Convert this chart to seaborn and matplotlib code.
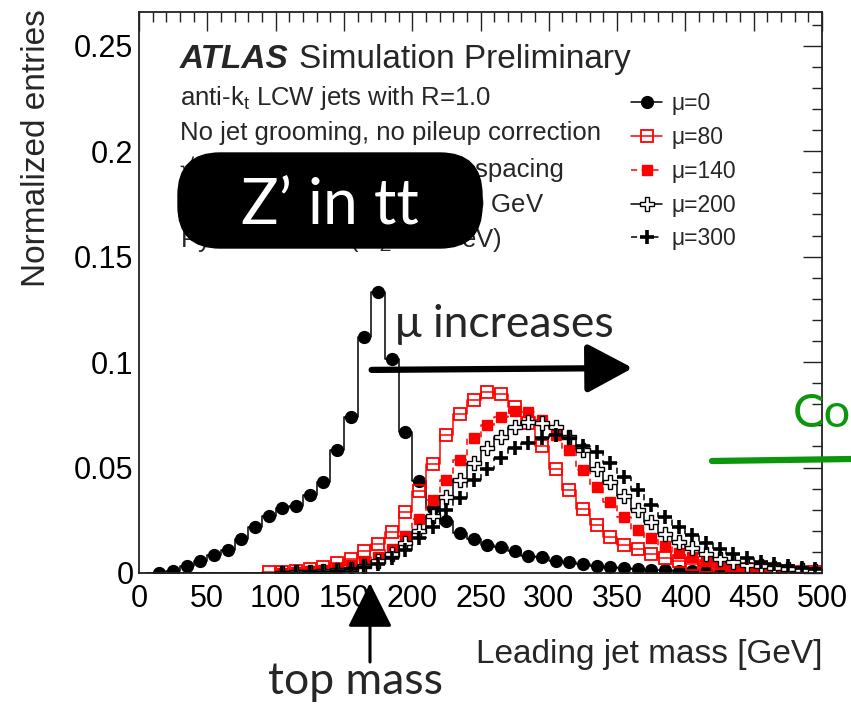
import numpy as np
import pandas as pd
import matplotlib
matplotlib.use("Agg")
import matplotlib.pyplot as plt
import seaborn as sns
from matplotlib.lines import Line2D
from matplotlib.patches import FancyBboxPatch
from matplotlib.ticker import MultipleLocator, FuncFormatter

sns.set_style("white")
plt.rcParams['font.family'] = ['Liberation Sans', 'DejaVu Sans']
plt.rcParams['mathtext.fontset'] = 'custom'
plt.rcParams['mathtext.rm'] = 'Liberation Sans'
plt.rcParams['mathtext.it'] = 'Liberation Sans:italic'
plt.rcParams['mathtext.bf'] = 'Liberation Sans:bold'

# ---------------- data ----------------
bin_centers = list(range(5, 500, 10))
series_labels = ["μ=0", "μ=80", "μ=140", "μ=200", "μ=300"]

mu0 = [0.0, 0.0002, 0.0008, 0.0035, 0.0055, 0.0085, 0.011, 0.016, 0.0217, 0.027,
       0.0307, 0.032, 0.037, 0.0433, 0.0584, 0.0742, 0.112, 0.133, 0.1016, 0.0668,
       0.0438, 0.0307, 0.0245, 0.019, 0.0163, 0.0133, 0.0125, 0.0104, 0.0081, 0.0074,
       0.0058, 0.0051, 0.0041, 0.0033, 0.0027, 0.0022, 0.0018, 0.0014, 0.0013, 0.0011,
       0.0009, 0.0008, 0.0007, 0.0006, 0.0005, 0.0005, 0.0004, 0.0004, 0.0003, 0.0003]
mu80 = [0.0, 0.0, 0.0, 0.0, 0.0, 0.0, 0.0, 0.0, 0.0, 0.0003,
        0.0006, 0.001, 0.0018, 0.0027, 0.0046, 0.0065, 0.0105, 0.0138, 0.0196, 0.0287,
        0.0388, 0.0518, 0.0652, 0.0755, 0.0822, 0.0858, 0.0848, 0.0785, 0.071, 0.0603,
        0.0492, 0.0394, 0.0302, 0.0228, 0.0172, 0.0135, 0.0112, 0.0088, 0.007, 0.0056,
        0.0044, 0.0035, 0.0028, 0.0022, 0.0017, 0.0014, 0.0011, 0.0009, 0.0007, 0.0006]
mu140 = [0.0, 0.0, 0.0, 0.0, 0.0, 0.0, 0.0, 0.0, 0.0, 0.0,
         0.0002, 0.0005, 0.0009, 0.0015, 0.0025, 0.0038, 0.0055, 0.0077, 0.0115, 0.0176,
         0.0258, 0.0345, 0.0442, 0.0534, 0.0639, 0.07, 0.0742, 0.0766, 0.0763, 0.0726,
         0.0655, 0.0584, 0.0489, 0.041, 0.0338, 0.0267, 0.0206, 0.0164, 0.0128, 0.0097,
         0.0075, 0.0056, 0.0042, 0.0032, 0.0024, 0.0018, 0.0014, 0.0011, 0.0009, 0.0007]
mu200 = [0.0, 0.0, 0.0, 0.0, 0.0, 0.0, 0.0, 0.0, 0.0, 0.0,
         0.0001, 0.0003, 0.0005, 0.0008, 0.0012, 0.002, 0.0032, 0.0055, 0.0088, 0.014,
         0.0198, 0.027, 0.0362, 0.0441, 0.052, 0.0592, 0.0647, 0.0694, 0.0718, 0.071,
         0.0691, 0.0647, 0.0584, 0.0494, 0.0433, 0.0365, 0.0299, 0.0243, 0.0187, 0.0149,
         0.0117, 0.0088, 0.0067, 0.0053, 0.004, 0.0031, 0.0024, 0.0018, 0.0014, 0.0011]
mu300 = [0.0, 0.0, 0.0, 0.0, 0.0, 0.0, 0.0, 0.0, 0.0, 0.0,
         0.0001, 0.0002, 0.0004, 0.0006, 0.001, 0.0017, 0.0028, 0.0045, 0.0072, 0.011,
         0.0165, 0.022, 0.0299, 0.0355, 0.0441, 0.0492, 0.0544, 0.0592, 0.0618, 0.0642,
         0.0655, 0.0639, 0.0603, 0.0576, 0.0523, 0.0454, 0.0395, 0.0323, 0.0267, 0.0217,
         0.018, 0.0144, 0.0112, 0.009, 0.007, 0.0054, 0.0043, 0.0033, 0.0025, 0.002]

x_ticks = [0, 50, 100, 150, 200, 250, 300, 350, 400, 450, 500]
y_ticks = [0, 0.05, 0.1, 0.15, 0.2, 0.25]

# ---------------- styles ----------------
styles = [
    dict(color="black", ls="-", marker="o", ms=8.5, mfc="black", mec="black", mew=1.0),
    dict(color="red", ls="-", marker="s", ms=8.3, mfc="none", mec="red", mew=1.3),
    dict(color="red", ls=(0, (4, 3)), marker="s", ms=7.8, mfc="red", mec="red", mew=1.0),
    dict(color="black", ls="-", marker="P", ms=10.5, mfc="white", mec="black", mew=1.0),
    dict(color="black", ls=(0, (4, 3)), marker="+", ms=10.5, mfc="black", mec="black", mew=2.6),
]
all_series = [mu0, mu80, mu140, mu200, mu300]

W, H = 851, 707
fig = plt.figure(figsize=(W / 100, H / 100), dpi=100)
ax = fig.add_axes([139 / W, 134 / H, 683 / W, 561 / H])

for vals, st in zip(all_series, styles):
    vals = np.asarray(vals)
    sns.lineplot(x=bin_centers, y=vals, ax=ax, drawstyle="steps-mid",
                 color=st["color"], linestyle=st["ls"], linewidth=1.1,
                 marker=st["marker"], markersize=st["ms"],
                 markerfacecolor=st["mfc"], markeredgecolor=st["mec"],
                 markeredgewidth=st["mew"], markevery=list(vals > 0),
                 legend=False)

ax.set_xlim(0, 500)
ax.set_ylim(0, 0.266)
ax.xaxis.set_major_locator(MultipleLocator(50))
ax.xaxis.set_minor_locator(MultipleLocator(10))
ax.yaxis.set_major_locator(MultipleLocator(0.05))
ax.yaxis.set_minor_locator(MultipleLocator(0.01))
ax.set_xticks(x_ticks)
ax.set_yticks(y_ticks)
ax.yaxis.set_major_formatter(FuncFormatter(lambda v, p: f"{v:g}"))
ax.tick_params(which="both", direction="in", top=True, right=True, colors="#222222")
ax.tick_params(which="major", length=14, width=1.0, labelsize=22, labelcolor="black")
ax.tick_params(which="minor", length=7, width=1.0)
ax.tick_params(axis="x", which="major", pad=8)
ax.tick_params(axis="y", which="major", pad=4)
for sp in ax.spines.values():
    sp.set_linewidth(1.3)
    sp.set_color("#222222")

ax.set_xlabel("Leading jet mass [GeV]", fontsize=24, loc="right")
ax.xaxis.set_label_coords(1.0, -0.118)
ax.set_ylabel("Normalized entries", fontsize=24, loc="top")
ax.yaxis.set_label_coords(-0.128, 1.005)

# legend
handles = [Line2D([], [], color=st["color"], linestyle=st["ls"], linewidth=1.1,
                  marker=st["marker"], markersize=st["ms"], markerfacecolor=st["mfc"],
                  markeredgecolor=st["mec"], markeredgewidth=st["mew"]) for st in styles]
ax.legend(handles, series_labels, loc="upper left", bbox_to_anchor=(0.7208, 0.857),
          frameon=False, fontsize=16.5, handlelength=1.35, handletextpad=0.4,
          labelspacing=0.47, borderpad=0, borderaxespad=0)

# ATLAS texts
x0 = 0.06
ax.text(x0, 0.9002, "ATLAS", transform=ax.transAxes, fontsize=24,
        fontweight="bold", fontstyle="italic", va="baseline")
ax.text(0.2339, 0.9002, "Simulation Preliminary", transform=ax.transAxes,
        fontsize=24, va="baseline")
ax.text(x0, 0.8342, r"anti-k$_{\mathrm{t}}$ LCW jets with R=1.0", transform=ax.transAxes,
        fontsize=18.5, va="baseline")
ax.text(x0, 0.7718, "No jet grooming, no pileup correction", transform=ax.transAxes,
        fontsize=18.5, va="baseline")
ax.text(x0, 0.7059, "√s = 14 TeV, 25 ns bunch spacing", transform=ax.transAxes,
        fontsize=18.5, va="baseline")
ax.text(0.5936, 0.6435, r"|η| < 2, leading jet p$_{\mathrm{T}}$ > 300 GeV", transform=ax.transAxes,
        fontsize=18.5, va="baseline", ha="right")
ax.text(x0, 0.5811, r"Pythia8 Z'$\rightarrow$tt (m$_{\mathrm{Z'}}$ = 2 TeV)", transform=ax.transAxes,
        fontsize=18.5, va="baseline")

# annotations (overlay)
ann_font = "Lato"
box = FancyBboxPatch((1.78, 4.59), 3.04, 0.95, boxstyle="round,pad=0,rounding_size=0.42",
                     transform=fig.dpi_scale_trans, facecolor="black", edgecolor="black",
                     zorder=10)
fig.add_artist(box)
fig.text(330 / W, (H - 224) / H, "Z’ in tt", color="white", fontsize=45,
         family=ann_font, ha="center", va="baseline", zorder=11)

ax.text(267.5, 0.1119, "μ increases", fontsize=32, family=ann_font,
        ha="center", va="baseline", zorder=12)
ax.annotate("", xy=(361.5, 0.0972), xytext=(170.3, 0.0963),
            arrowprops=dict(arrowstyle="-|>,head_length=1.4,head_width=0.75",
                            mutation_scale=20, color="black", lw=4.5, shrinkA=0, shrinkB=0),
            zorder=12)

fig.text(793 / W, (H - 427) / H, "Co", color="#0c960c", fontsize=34,
         family=ann_font, ha="left", va="baseline", zorder=12)
fig.add_artist(Line2D([712 / W, 1.0], [(H - 461) / H, (H - 459) / H],
                      color="#0c960c", lw=4.5, transform=fig.transFigure, zorder=12))

fig.text(355 / W, (H - 694) / H, "top mass", fontsize=32, family=ann_font,
         ha="center", va="baseline", zorder=12)
ax.annotate("", xy=(370 / W, (H - 583) / H), xytext=(370 / W, (H - 662) / H),
            xycoords="figure fraction", textcoords="figure fraction",
            arrowprops=dict(arrowstyle="-|>,head_length=1.4,head_width=0.7",
                            mutation_scale=20, color="black", lw=2.2, shrinkA=0, shrinkB=0),
            annotation_clip=False, zorder=12)

fig.savefig("out.png", dpi=100)
